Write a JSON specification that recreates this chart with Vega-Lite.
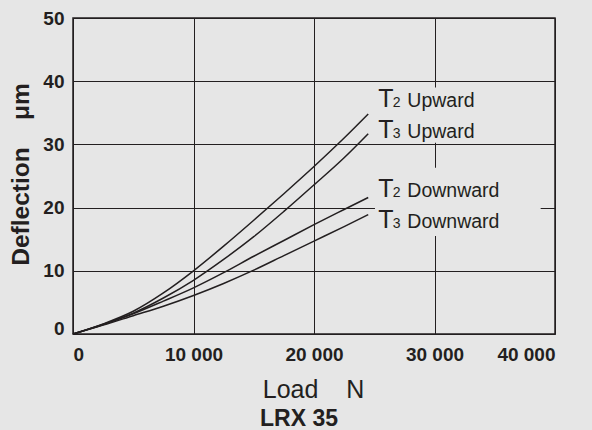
{
  "$schema": "https://vega.github.io/schema/vega-lite/v6.json",
  "width": 482,
  "height": 316,
  "autosize": {"type": "none"},
  "padding": {"left": 73, "top": 18, "right": 37, "bottom": 96},
  "background": "#e6e6e6",
  "title": {
    "text": "LRX 35",
    "orient": "bottom",
    "anchor": "middle",
    "frame": "group",
    "font": "Liberation Sans",
    "fontSize": 23,
    "fontWeight": "bold",
    "color": "#231f20",
    "baseline": "alphabetic",
    "dx": -15,
    "offset": 24
  },
  "datasets": {
    "curves": [
      {"series": "T2 Upward", "load": 0, "defl": 0},
      {"series": "T2 Upward", "load": 2500, "defl": 1.6},
      {"series": "T2 Upward", "load": 5000, "defl": 3.6},
      {"series": "T2 Upward", "load": 7500, "defl": 6.5},
      {"series": "T2 Upward", "load": 10000, "defl": 10.0},
      {"series": "T2 Upward", "load": 12500, "defl": 13.9},
      {"series": "T2 Upward", "load": 15000, "defl": 18.0},
      {"series": "T2 Upward", "load": 17500, "defl": 22.2},
      {"series": "T2 Upward", "load": 20000, "defl": 26.5},
      {"series": "T2 Upward", "load": 22500, "defl": 31.0},
      {"series": "T2 Upward", "load": 24500, "defl": 34.8},
      {"series": "T3 Upward", "load": 0, "defl": 0},
      {"series": "T3 Upward", "load": 2500, "defl": 1.5},
      {"series": "T3 Upward", "load": 5000, "defl": 3.3},
      {"series": "T3 Upward", "load": 7500, "defl": 5.7},
      {"series": "T3 Upward", "load": 10000, "defl": 8.5},
      {"series": "T3 Upward", "load": 12500, "defl": 11.8},
      {"series": "T3 Upward", "load": 15000, "defl": 15.4},
      {"series": "T3 Upward", "load": 17500, "defl": 19.4},
      {"series": "T3 Upward", "load": 20000, "defl": 23.6},
      {"series": "T3 Upward", "load": 22500, "defl": 27.9},
      {"series": "T3 Upward", "load": 24500, "defl": 31.7},
      {"series": "T2 Downward", "load": 0, "defl": 0},
      {"series": "T2 Downward", "load": 2500, "defl": 1.5},
      {"series": "T2 Downward", "load": 5000, "defl": 3.2},
      {"series": "T2 Downward", "load": 7500, "defl": 5.2},
      {"series": "T2 Downward", "load": 10000, "defl": 7.3},
      {"series": "T2 Downward", "load": 12500, "defl": 9.7},
      {"series": "T2 Downward", "load": 15000, "defl": 12.3},
      {"series": "T2 Downward", "load": 17500, "defl": 14.8},
      {"series": "T2 Downward", "load": 20000, "defl": 17.3},
      {"series": "T2 Downward", "load": 22500, "defl": 19.7},
      {"series": "T2 Downward", "load": 24500, "defl": 21.6},
      {"series": "T3 Downward", "load": 0, "defl": 0},
      {"series": "T3 Downward", "load": 2500, "defl": 1.4},
      {"series": "T3 Downward", "load": 5000, "defl": 2.9},
      {"series": "T3 Downward", "load": 7500, "defl": 4.4},
      {"series": "T3 Downward", "load": 10000, "defl": 6.1},
      {"series": "T3 Downward", "load": 12500, "defl": 8.0},
      {"series": "T3 Downward", "load": 15000, "defl": 10.1},
      {"series": "T3 Downward", "load": 17500, "defl": 12.4},
      {"series": "T3 Downward", "load": 20000, "defl": 14.7},
      {"series": "T3 Downward", "load": 22500, "defl": 17.0},
      {"series": "T3 Downward", "load": 24500, "defl": 18.9}
    ],
    "labels": [
      {"name": "T", "sub": "2", "dir": "Upward", "load": 25337, "defl": 35.9},
      {"name": "T", "sub": "3", "dir": "Upward", "load": 25337, "defl": 31.0},
      {"name": "T", "sub": "2", "dir": "Downward", "load": 25337, "defl": 21.6},
      {"name": "T", "sub": "3", "dir": "Downward", "load": 25337, "defl": 16.7}
    ],
    "boxes": [
      {"x1": 25060, "x2": 38810, "y1": 30.25, "y2": 39.0},
      {"x1": 25060, "x2": 38810, "y1": 15.5, "y2": 26.3}
    ]
  },
  "layer": [
    {
      "data": {"name": "boxes"},
      "mark": {"type": "rect", "fill": "#e6e6e6", "stroke": null},
      "encoding": {
        "x": {"field": "x1", "type": "quantitative", "scale": {"domain": [0, 40000]}},
        "x2": {"field": "x2"},
        "y": {"field": "y1", "type": "quantitative", "scale": {"domain": [0, 50]}},
        "y2": {"field": "y2"}
      }
    },
    {
      "data": {"name": "curves"},
      "mark": {"type": "line", "color": "#231f20", "strokeWidth": 1.5, "interpolate": "monotone"},
      "encoding": {
        "x": {
          "field": "load",
          "type": "quantitative",
          "scale": {"domain": [0, 40000]},
          "axis": {
            "values": [0, 10000, 20000, 30000, 40000],
            "labelExpr": "replace(format(datum.value, ','), ',', ' ')",
            "labelBaseline": "alphabetic",
            "labelPadding": 26,
            "title": "Load\u00a0\u00a0\u00a0\u00a0N",
            "titleFontWeight": "normal",
            "titleFontSize": 25,
            "titleBaseline": "alphabetic",
            "titleAlign": "center",
            "titleX": 240,
            "titleY": 63
          }
        },
        "y": {
          "field": "defl",
          "type": "quantitative",
          "scale": {"domain": [0, 50]},
          "axis": {
            "values": [0, 10, 20, 30, 40, 50],
            "labelPadding": 9,
            "labelBaseline": {"condition": {"test": "datum.value == 0", "value": "alphabetic"}, "value": "middle"},
            "title": "Deflection\u00a0\u00a0\u00a0\u00a0μm",
            "titleFontWeight": "bold",
            "titleFontSize": 24.5,
            "titleBaseline": "alphabetic",
            "titleAlign": "center",
            "titleAngle": 270,
            "titleX": -45,
            "titleY": 156
          }
        },
        "detail": {"field": "series"}
      }
    },
    {
      "data": {"name": "labels"},
      "mark": {"type": "text", "align": "left", "baseline": "alphabetic", "fontSize": 25, "font": "Liberation Sans", "color": "#231f20", "dx": 0},
      "encoding": {
        "x": {"field": "load", "type": "quantitative"},
        "y": {"field": "defl", "type": "quantitative"},
        "text": {"field": "name"}
      }
    },
    {
      "data": {"name": "labels"},
      "mark": {"type": "text", "align": "left", "baseline": "alphabetic", "fontSize": 14, "font": "Liberation Sans", "color": "#231f20", "dx": 14.5},
      "encoding": {
        "x": {"field": "load", "type": "quantitative"},
        "y": {"field": "defl", "type": "quantitative"},
        "text": {"field": "sub"}
      }
    },
    {
      "data": {"name": "labels"},
      "mark": {"type": "text", "align": "left", "baseline": "alphabetic", "fontSize": 19.5, "font": "Liberation Sans", "color": "#231f20", "dx": 29},
      "encoding": {
        "x": {"field": "load", "type": "quantitative"},
        "y": {"field": "defl", "type": "quantitative"},
        "text": {"field": "dir"}
      }
    }
  ],
  "config": {
    "view": {"stroke": "#231f20", "strokeWidth": 1.5, "fill": "#e6e6e6"},
    "font": "Liberation Sans",
    "axis": {
      "domain": false,
      "ticks": false,
      "grid": true,
      "gridColor": "#231f20",
      "gridOpacity": 1,
      "gridWidth": 1,
      "labelFont": "Liberation Sans",
      "labelFontSize": 19,
      "labelFontWeight": "bold",
      "labelColor": "#231f20",
      "titleFont": "Liberation Sans",
      "titleColor": "#231f20"
    }
  }
}
